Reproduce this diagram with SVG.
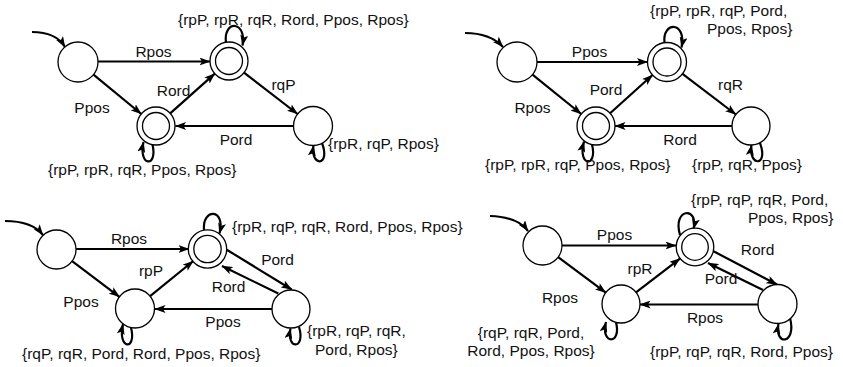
<svg xmlns="http://www.w3.org/2000/svg" width="843" height="367" viewBox="0 0 843 367">
<style>
.st{fill:#fff;stroke:#000;stroke-width:1.3}
.e{fill:none;stroke:#000;stroke-width:2.2;marker-end:url(#ah)}
.l{fill:none;stroke:#000;stroke-width:2.2}
text{font-family:"Liberation Sans",Arial,sans-serif;font-size:15.5px;fill:#111}
.c{text-anchor:middle}
</style>
<defs>
<marker id="ah" viewBox="0 0 11 8" refX="10.5" refY="4" markerWidth="11" markerHeight="8" markerUnits="userSpaceOnUse" orient="auto">
<path d="M0,0 L11,4 L0,8 L2.5,4 z" fill="#000"/>
</marker>
</defs>
<rect width="843" height="367" fill="#fff"/>

<!-- Quadrant 1 -->
<g id="q1-edges">
<path class="e" d="M32,32 Q56,32 65,47"/>
<path class="e" d="M98,61.5 L210,61.5"/>
<path class="e" d="M93.5,74.7 L141.3,114"/>
<path class="e" d="M170.2,113.4 L214.8,73.6"/>
<path class="e" d="M244,72.6 L297.6,114"/>
<path class="e" d="M293.5,126 L175.5,126"/>
<path class="e" d="M226,42.3 C223,20 247,20 242.5,45.5"/>
<path class="e" d="M152.5,144.5 C158,168 138,167 143.5,142"/>
<path class="e" d="M322,143 C331,167 310,167 313.5,145.5"/>
</g>
<g id="q1-A"><circle class="st" cx="78" cy="62" r="20"/></g>
<g id="q1-B"><circle class="st" cx="229" cy="61" r="19"/><circle class="st" cx="229" cy="61" r="13.5"/></g>
<g id="q1-C"><circle class="st" cx="156" cy="126" r="19"/><circle class="st" cx="156" cy="126" r="13.5"/></g>
<g id="q1-D"><circle class="st" cx="313" cy="126" r="19.5"/></g>
<g id="q1-labels">
<text x="178" y="25">{rpP, rpR, rqR, Rord, Ppos, Rpos}</text>
<text class="c" x="153.5" y="57">Rpos</text>
<text class="c" x="92" y="113">Ppos</text>
<text class="c" x="173.5" y="96">Rord</text>
<text class="c" x="283.5" y="90">rqP</text>
<text class="c" x="236" y="145">Pord</text>
<text x="48" y="175">{rpP, rpR, rqR, Ppos, Rpos}</text>
<text x="328" y="149">{rpR, rqP, Rpos}</text>
</g>

<!-- Quadrant 2 -->
<g id="q2-edges">
<path class="e" d="M465,33 Q490,33 503,47"/>
<path class="e" d="M537,62 L647.5,62"/>
<path class="e" d="M532.5,74.6 L581.2,114"/>
<path class="e" d="M610.1,113.3 L652.5,75"/>
<path class="e" d="M682.5,73.8 L735.9,114.5"/>
<path class="e" d="M732,126 L615,126"/>
<path class="e" d="M664.5,42.7 C662,21 687,21 681.5,47.5"/>
<path class="e" d="M592,144.6 C598,168 577,167 584,141.5"/>
<path class="e" d="M760,142.8 C769,167 748,167 751.5,145"/>
</g>
<g id="q2-A"><circle class="st" cx="517" cy="62" r="20"/></g>
<g id="q2-B"><circle class="st" cx="667" cy="62" r="19.5"/><circle class="st" cx="667" cy="62" r="14"/></g>
<g id="q2-C"><circle class="st" cx="596" cy="126" r="19"/><circle class="st" cx="596" cy="126" r="13.5"/></g>
<g id="q2-D"><circle class="st" cx="751" cy="126" r="19"/></g>
<g id="q2-labels">
<text x="650" y="16">{rpP, rpR, rqP, Pord,</text>
<text x="707" y="34">Ppos, Rpos}</text>
<text class="c" x="589.5" y="57">Ppos</text>
<text class="c" x="532.5" y="113">Rpos</text>
<text class="c" x="606" y="95">Pord</text>
<text class="c" x="730.5" y="90">rqR</text>
<text class="c" x="680" y="145">Rord</text>
<text x="485" y="170">{rpP, rpR, rqP, Ppos, Rpos}</text>
<text x="692" y="170">{rpP, rqR, Ppos}</text>
</g>

<!-- Quadrant 3 -->
<g id="q3-edges">
<path class="e" d="M5,221 Q32,221 43,235"/>
<path class="e" d="M76,249 L189,249"/>
<path class="e" d="M72.1,261.2 L119.4,296.8"/>
<path class="e" d="M150.1,296.2 L193.3,261"/>
<path class="e" d="M226.7,249.7 L291.7,289.5"/>
<path class="e" d="M278.3,293.5 L222,266"/>
<path class="e" d="M272,309 L155,309"/>
<path class="e" d="M204,230 C202,208 226,208 219.5,233.5"/>
<path class="e" d="M131,327.6 C137,351 117,350 123,324"/>
<path class="e" d="M299,327 C306,350 286,350 290.5,328.5"/>
</g>
<g id="q3-A"><circle class="st" cx="56.5" cy="249.5" r="19.5"/></g>
<g id="q3-B"><circle class="st" cx="207.5" cy="249" r="19.2"/><circle class="st" cx="207.5" cy="249" r="13.7"/></g>
<g id="q3-C"><circle class="st" cx="135" cy="308.5" r="19.5"/></g>
<g id="q3-D"><circle class="st" cx="291" cy="309" r="19"/></g>
<g id="q3-labels">
<text x="232" y="232">{rpR, rqP, rqR, Rord, Ppos, Rpos}</text>
<text class="c" x="129" y="244">Rpos</text>
<text class="c" x="151" y="276">rpP</text>
<text class="c" x="81" y="307">Ppos</text>
<text class="c" x="277.5" y="265">Pord</text>
<text class="c" x="228.5" y="292">Rord</text>
<text class="c" x="223" y="327">Ppos</text>
<text x="22" y="359">{rqP, rqR, Pord, Rord, Ppos, Rpos}</text>
<text x="307" y="336">{rpR, rqP, rqR,</text>
<text x="315" y="355">Pord, Rpos}</text>
</g>

<!-- Quadrant 4 -->
<g id="q4-edges">
<path class="e" d="M490,216 Q518,217 528,231"/>
<path class="e" d="M562,245.5 L676,245.5"/>
<path class="e" d="M558.1,257.2 L605.8,292.6"/>
<path class="e" d="M636,292.4 L680,258.6"/>
<path class="e" d="M713,251 L777,284.5"/>
<path class="e" d="M763,290 L708,263"/>
<path class="e" d="M758,304.5 L640,304.5"/>
<path class="e" d="M680,235 C672,208 699,206 693.5,229"/>
<path class="e" d="M616,322.4 C622,345 600,345 606,322"/>
<path class="e" d="M790,318 C797,345 774,346 778.5,324"/>
</g>
<g id="q4-A"><circle class="st" cx="542.5" cy="245.5" r="19.5"/></g>
<g id="q4-B"><circle class="st" cx="695" cy="247" r="18.8"/><circle class="st" cx="695" cy="247" r="13.3"/></g>
<g id="q4-C"><circle class="st" cx="621" cy="304" r="19"/></g>
<g id="q4-D"><circle class="st" cx="777.5" cy="304" r="19.5"/></g>
<g id="q4-labels">
<text x="691" y="205">{rpP, rqP, rqR, Pord,</text>
<text x="748" y="223">Ppos, Rpos}</text>
<text class="c" x="614.5" y="240">Ppos</text>
<text class="c" x="560" y="303">Rpos</text>
<text class="c" x="640" y="274">rpR</text>
<text class="c" x="757.5" y="255">Rord</text>
<text class="c" x="721" y="284">Pord</text>
<text class="c" x="705" y="323">Rpos</text>
<text class="c" x="531" y="338">{rqP, rqR, Pord,</text>
<text class="c" x="531" y="356">Rord, Ppos, Rpos}</text>
<text x="650" y="357">{rpP, rqP, rqR, Rord, Ppos}</text>
</g>
</svg>
